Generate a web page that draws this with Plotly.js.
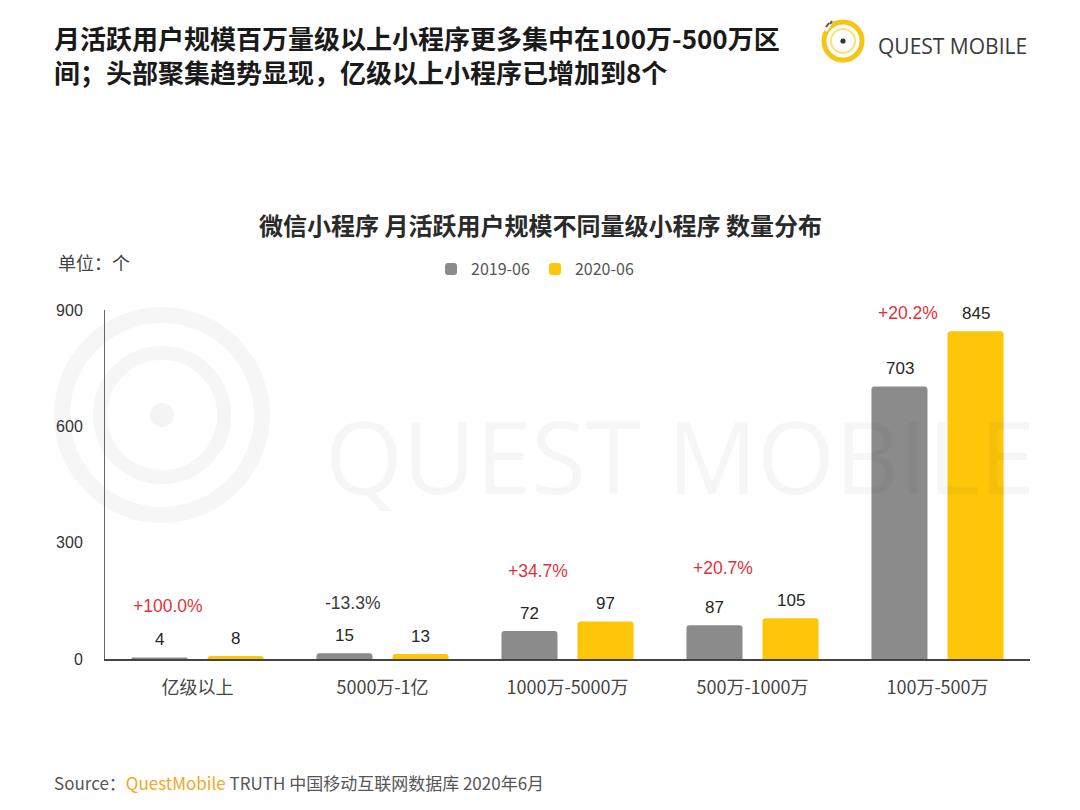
<!DOCTYPE html>
<html>
<head>
<meta charset="utf-8">
<script src="https://cdn.plot.ly/plotly-3.0.1.min.js"></script>
<style>html,body{margin:0;padding:0;background:#fff;}#chart{width:1080px;height:810px;}</style>
</head>
<body>
<div id="chart"></div>
<script>
const categories = ['亿级以上', '5000万-1亿', '1000万-5000万', '500万-1000万', '100万-500万'];
const seriesNames = ['2019-06', '2020-06'];
const values2019 = [4, 15, 72, 87, 703];
const values2020 = [8, 13, 97, 105, 845];
const growthLabels = ['+100.0%', '-13.3%', '+34.7%', '+20.7%', '+20.2%'];
const yTicks = [0, 300, 600, 900];

const W = 1080, H = 810;
const M = {l: 105, r: 50, t: 310, b: 151};
const PW = W - M.l - M.r, PH = H - M.t - M.b;
const px = x => (x - M.l) / PW;
const py = y => (H - M.b - y) / PH;

const CJK = '"Noto Sans CJK SC", "Noto Sans", sans-serif';
const NUM = '"Liberation Sans", Arial, "Noto Sans CJK SC", sans-serif';
const GRAY = '#8b8b8b', YELLOW = '#fdc609';

const traces = [
  {type: 'bar', name: seriesNames[0], x: categories, y: values2019,
   marker: {color: GRAY}, hoverinfo: 'x+y'},
  {type: 'bar', name: seriesNames[1], x: categories, y: values2020,
   marker: {color: YELLOW}, hoverinfo: 'x+y'}
];

const annotations = [];
categories.forEach((c, i) => {
  annotations.push({x: c, y: values2019[i], xref: 'x', yref: 'y', xshift: -38, yshift: 6,
    yanchor: 'bottom', showarrow: false, text: String(values2019[i]),
    font: {family: NUM, size: 17, color: '#262626'}});
  annotations.push({x: c, y: values2020[i], xref: 'x', yref: 'y', xshift: 38, yshift: 6,
    yanchor: 'bottom', showarrow: false, text: String(values2020[i]),
    font: {family: NUM, size: 17, color: '#262626'}});
  const neg = growthLabels[i].startsWith('-');
  annotations.push({x: c, y: Math.max(values2019[i], values2020[i]), xref: 'x', yref: 'y',
    xshift: -30, yshift: i === categories.length - 1 ? 18 : 50, yanchor: 'middle',
    showarrow: false, text: growthLabels[i],
    font: {family: NUM, size: 17.5, color: neg ? '#3a3a3a' : '#e0323c'}});
});

// titles & texts
annotations.push({xref: 'paper', yref: 'paper', x: px(52), y: py(55), xanchor: 'left', yanchor: 'middle',
  align: 'left', showarrow: false,
  text: '<b>月活跃用户规模百万量级以上小程序更多集中在100万-500万区<br>间；头部聚集趋势显现，亿级以上小程序已增加到8个</b>',
  font: {family: CJK, size: 26, color: '#1a1a1a'}});
annotations.push({xref: 'paper', yref: 'paper', x: px(540), y: py(224), xanchor: 'center', yanchor: 'middle',
  showarrow: false, text: '<b>微信小程序 月活跃用户规模不同量级小程序 数量分布</b>',
  font: {family: CJK, size: 24, color: '#2a2a2a'}});
annotations.push({xref: 'paper', yref: 'paper', x: px(56), y: py(262), xanchor: 'left', yanchor: 'middle',
  showarrow: false, text: '单位：个',
  font: {family: CJK, size: 18, color: '#444'}});
annotations.push({xref: 'paper', yref: 'paper', x: px(52), y: py(782), xanchor: 'left', yanchor: 'middle',
  showarrow: false,
  text: 'Source：<span style="color:#f5a623">QuestMobile</span> TRUTH 中国移动互联网数据库 2020年6月',
  font: {family: CJK, size: 17, color: '#555'}});
// logo text
annotations.push({xref: 'paper', yref: 'paper', x: px(876), y: py(46), xanchor: 'left', yanchor: 'middle',
  showarrow: false, text: 'QUEST MOBILE',
  font: {family: '"Open Sans", "Liberation Sans", sans-serif', size: 21, color: '#3a3a3a'}});
// watermark text
annotations.push({xref: 'paper', yref: 'paper', x: px(680), y: py(455), xanchor: 'center', yanchor: 'middle',
  showarrow: false, text: 'QUEST MOBILE',
  font: {family: '"Open Sans", "Liberation Sans", sans-serif', size: 100, color: 'rgba(0,0,0,0.035)'}});

function circ(cx, cy, r, extra) {
  return Object.assign({type: 'circle', xref: 'paper', yref: 'paper',
    x0: px(cx - r), x1: px(cx + r), y0: py(cy + r), y1: py(cy - r)}, extra);
}
const shapes = [
  // watermark rings
  circ(162, 415, 100, {layer: 'below', line: {color: '#f6f6f6', width: 16}}),
  circ(162, 415, 62, {layer: 'below', line: {color: '#f6f6f6', width: 14}}),
  circ(162, 415, 12, {layer: 'below', line: {width: 0}, fillcolor: '#f4f4f4'}),
  // logo
  circ(843, 41, 19, {line: {color: '#f6c412', width: 5}}),
  circ(843, 41, 12, {line: {color: '#fbe27a', width: 2}}),
  circ(843, 41, 2.6, {line: {width: 0}, fillcolor: '#333'}),
  {type: 'line', xref: 'paper', yref: 'paper', x0: px(824), y0: py(30), x1: px(829), y1: py(22),
   line: {color: '#ffffff', width: 7}},
  {type: 'line', xref: 'paper', yref: 'paper', x0: px(826), y0: py(27), x1: px(829), y1: py(23),
   line: {color: '#555', width: 2}},
  {type: 'line', xref: 'paper', yref: 'paper', x0: px(830), y0: py(24), x1: px(832), y1: py(21),
   line: {color: '#555', width: 2}}
];

const layout = {
  width: W, height: H,
  margin: M,
  paper_bgcolor: '#fff', plot_bgcolor: 'rgba(0,0,0,0)',
  barmode: 'group', bargap: 0.178, bargroupgap: 0.263, barcornerradius: 3,
  showlegend: true,
  legend: {orientation: 'h', x: px(535), xanchor: 'center', y: py(269), yanchor: 'middle',
    font: {family: CJK, size: 16, color: '#555'}, itemwidth: 30, traceorder: 'normal',
    bgcolor: 'rgba(0,0,0,0)'},
  xaxis: {type: 'category', showline: true, linecolor: '#444', linewidth: 1.5, ticks: '',
    showgrid: false, zeroline: false, ticklabelstandoff: 12,
    tickfont: {family: CJK, size: 18, color: '#444'}, fixedrange: true},
  yaxis: {range: [0, 900], tickvals: yTicks, showline: true, linecolor: '#666', linewidth: 1,
    ticks: '', showgrid: false, zeroline: false, ticklabelstandoff: 18,
    tickfont: {family: NUM, size: 16, color: '#333'}, fixedrange: true},
  annotations: annotations,
  shapes: shapes
};

Plotly.newPlot('chart', traces, layout, {displayModeBar: false, staticPlot: true});
</script>
</body>
</html>
